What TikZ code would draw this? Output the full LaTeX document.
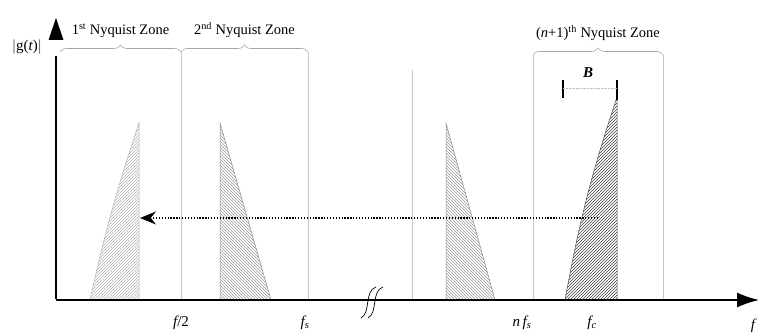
\documentclass[tikz,border=0pt]{standalone}
\usepackage{fontspec}
\setmainfont{Liberation Serif}
\usetikzlibrary{arrows.meta,positioning,decorations.pathreplacing}

\begin{document}
\begin{tikzpicture}[
x=1pt, y=-1pt,
axisline/.style={-{Latex[length=22pt,width=15pt]}, line width=1.4pt, draw=black, solid},
zone/.style={draw=black!22, line width=0.6pt},
zbrace/.style={decorate, decoration={brace, amplitude=7pt}, draw=black!35, line width=0.6pt},
band/.style={draw=black!45, line width=0.5pt},
hatch/.style={draw=black!40, line width=0.4pt},
lbl/.style={font=\fontsize{14.5}{16}\selectfont, inner sep=1pt},
tick/.style={font=\fontsize{15}{17}\selectfont\itshape, inner sep=1pt}
]
\useasboundingbox (0,0) rectangle (759,336);

\coordinate (o) at (56,300);
\coordinate (ytop) at (56,18);
\coordinate (xend) at (759,300);
\node[lbl, font=\fontsize{15}{17}\selectfont] (gt) at (27,47) {$|$g(\textit{t})$|$};

% zone borders
\coordinate (z0) at (60,52);
\coordinate (z1) at (181,52);
\coordinate (z2) at (308,52);
\coordinate (z3) at (533,55);
\coordinate (z4) at (663,55);
\coordinate (zm) at (412,70);
\foreach \z in {z1,z2,z3,z4,zm}
  \draw[zone] (\z) -- (\z |- o);

% braces and zone names
\draw[zbrace] (z0) -- (z1) node[midway, above=13pt, lbl] (n1) {1\textsuperscript{st} Nyquist Zone};
\draw[zbrace] (z1) -- (z2) node[midway, above=13pt, lbl] (n2) {2\textsuperscript{nd} Nyquist Zone};
\draw[zbrace] (z3) -- (z4) node[midway, above=13pt, lbl] (n3) {(\textit{n}+1)\textsuperscript{th} Nyquist Zone};

% spectral images
\begin{scope}
\clip (90,300) to[bend left=3] (139,123) -- (139,300) -- cycle;
\foreach \k in {-200,-197,...,60}
  \draw[hatch, black!30] (90+\k,300) -- ++(200,-200);
\end{scope}
\draw[band, black!30] (90,300) to[bend left=3] (139,123) -- (139,300) -- cycle;

\begin{scope}
\clip (220,123) -- (271,300) -- (220,300) -- cycle;
\foreach \k in {0,3,...,240}
  \draw[hatch] (220+\k,300) -- ++(-200,-200);
\end{scope}
\draw[band] (220,123) -- (271,300) -- (220,300) -- cycle;

\begin{scope}
\clip (446,123) -- (495,300) -- (446,300) -- cycle;
\foreach \k in {0,3,...,240}
  \draw[hatch] (446+\k,300) -- ++(-200,-200);
\end{scope}
\draw[band] (446,123) -- (495,300) -- (446,300) -- cycle;

\begin{scope}
\clip (565,300) to[bend left=4] (617,97) -- (617,300) -- cycle;
\foreach \k in {-220,-217,...,60}
  \draw[hatch, black!75] (565+\k,300) -- ++(220,-220);
\end{scope}
\draw[band, black!70] (565,300) to[bend left=4] (617,97) -- (617,300) -- cycle;

% bandwidth marks
\coordinate (bl) at (563,80);
\coordinate (br) at (617,80);
\draw[line width=1.6pt] (bl) -- ++(0,18);
\draw[line width=1.6pt] (br) -- ++(0,20);
\draw[densely dotted, black!25] ([yshift=-8pt]bl) -- ([yshift=-8pt]br);
\node[tick, font=\fontsize{15}{17}\selectfont\bfseries\itshape] (bw) at (588,73) {B};

% folding arrow
\coordinate (src) at (598,218);
\coordinate (img) at (140,218);
\draw[line width=1.3pt, dash pattern=on 1.3pt off 1.6pt, -{Stealth[length=16pt,width=13pt]}] (src) -- (img);

% axis break
\draw[line width=0.7pt] (361,318) .. controls (371,313) and (364,291) .. (376,287);
\draw[line width=0.7pt] (368,318) .. controls (378,313) and (371,291) .. (383,287);

% frequency labels
\node[tick] (fh) at (181,323) {f\upshape/2};
\node[tick] (fs) at (305,323) {f\textsubscript{s}};
\node[tick] (nfs) at (522,323) {n\,f\textsubscript{s}};
\node[tick] (fc) at (592,323) {f\textsubscript{c}};
\node[tick] (ff) at (753,326) {f};

% axes (vertical one filled as a shape)
\draw[axisline] (o) -- (xend);
\fill[black] ([xshift=-0.75pt,yshift=0.7pt]o) rectangle ([xshift=0.75pt,yshift=-38pt]ytop);
\fill[black] (ytop) -- ([xshift=-7.5pt,yshift=-22pt]ytop) -- ([xshift=7.5pt,yshift=-22pt]ytop) -- cycle;
\end{tikzpicture}
\end{document}
